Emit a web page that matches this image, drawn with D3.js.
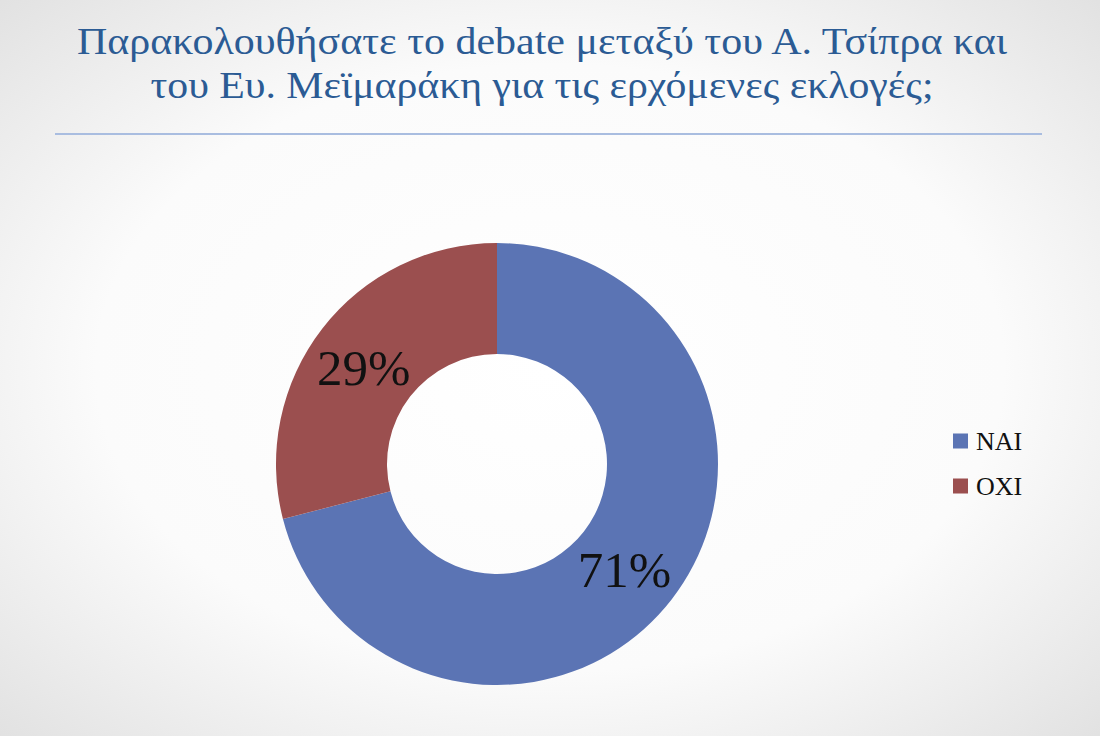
<!DOCTYPE html>
<html><head><meta charset="utf-8">
<script src="https://cdn.jsdelivr.net/npm/d3@7"></script>
<style>html,body{margin:0;padding:0;overflow:hidden;background:#fff}</style>
</head><body>
<svg id="c" width="1100" height="736"></svg>
<script>
const titleLines = ["Παρακολουθήσατε το debate μεταξύ του Α. Τσίπρα και", "του Ευ. Μεϊμαράκη για τις ερχόμενες εκλογές;"];
const categories = ["ΝΑΙ", "ΟΧΙ"];
const values = [71, 29];
const colors = ["#5b74b4", "#9b4f4f"];

const svg = d3.select("#c");
const defs = svg.append("defs");
const rg = defs.append("radialGradient").attr("id","bg").attr("cx","50%").attr("cy","50%").attr("r","75%");
rg.append("stop").attr("offset","0%").attr("stop-color","#ffffff");
rg.append("stop").attr("offset","55%").attr("stop-color","#fbfbfb");
rg.append("stop").attr("offset","100%").attr("stop-color","#dedede");
svg.append("rect").attr("width",1100).attr("height",736).attr("fill","url(#bg)");

const titleWidths = [930, 783];
svg.selectAll("text.title").data(titleLines).join("text")
  .attr("class","title")
  .attr("x",(d,i)=>542 - titleWidths[i]/2).attr("y",(d,i)=>54+i*44)
  .attr("textLength",(d,i)=>titleWidths[i])
  .attr("lengthAdjust","spacingAndGlyphs")
  .attr("font-family","'Liberation Serif','DejaVu Serif',serif")
  .attr("font-size",37)
  .attr("fill","#2b5b94")
  .text(d=>d);

svg.append("line").attr("x1",55).attr("x2",1042).attr("y1",134).attr("y2",134)
  .attr("stroke","#a9bde0").attr("stroke-width",2);

const cx = 497, cy = 464, R = 221, r = 110;
const pie = d3.pie().sort(null).value(d=>d);
const arc = d3.arc().innerRadius(r).outerRadius(R);
const labelArc = d3.arc().innerRadius(165).outerRadius(165);
const g = svg.append("g").attr("transform",`translate(${cx},${cy})`);
const arcs = pie(values);
g.selectAll("path").data(arcs).join("path")
  .attr("d",arc).attr("fill",(d,i)=>colors[i]);
g.selectAll("text").data(arcs).join("text")
  .attr("transform",d=>{const c=labelArc.centroid(d);return `translate(${c[0]-3},${c[1]+4})`;})
  .attr("text-anchor","middle").attr("dy","0.35em")
  .attr("font-family","'Liberation Serif',serif").attr("font-size",51)
  .attr("fill","#111")
  .text(d=>d.data+"%");

const leg = svg.append("g").attr("transform","translate(953,441)");
const li = leg.selectAll("g").data(categories).join("g").attr("transform",(d,i)=>`translate(0,${i*45})`);
li.append("rect").attr("x",0).attr("y",-7.5).attr("width",15).attr("height",15).attr("fill",(d,i)=>colors[i]);
li.append("text").attr("x",23).attr("y",0).attr("dy","0.35em")
  .attr("font-family","'Liberation Serif',serif").attr("font-size",26).attr("fill","#111").text(d=>d);
</script>
</body></html>
